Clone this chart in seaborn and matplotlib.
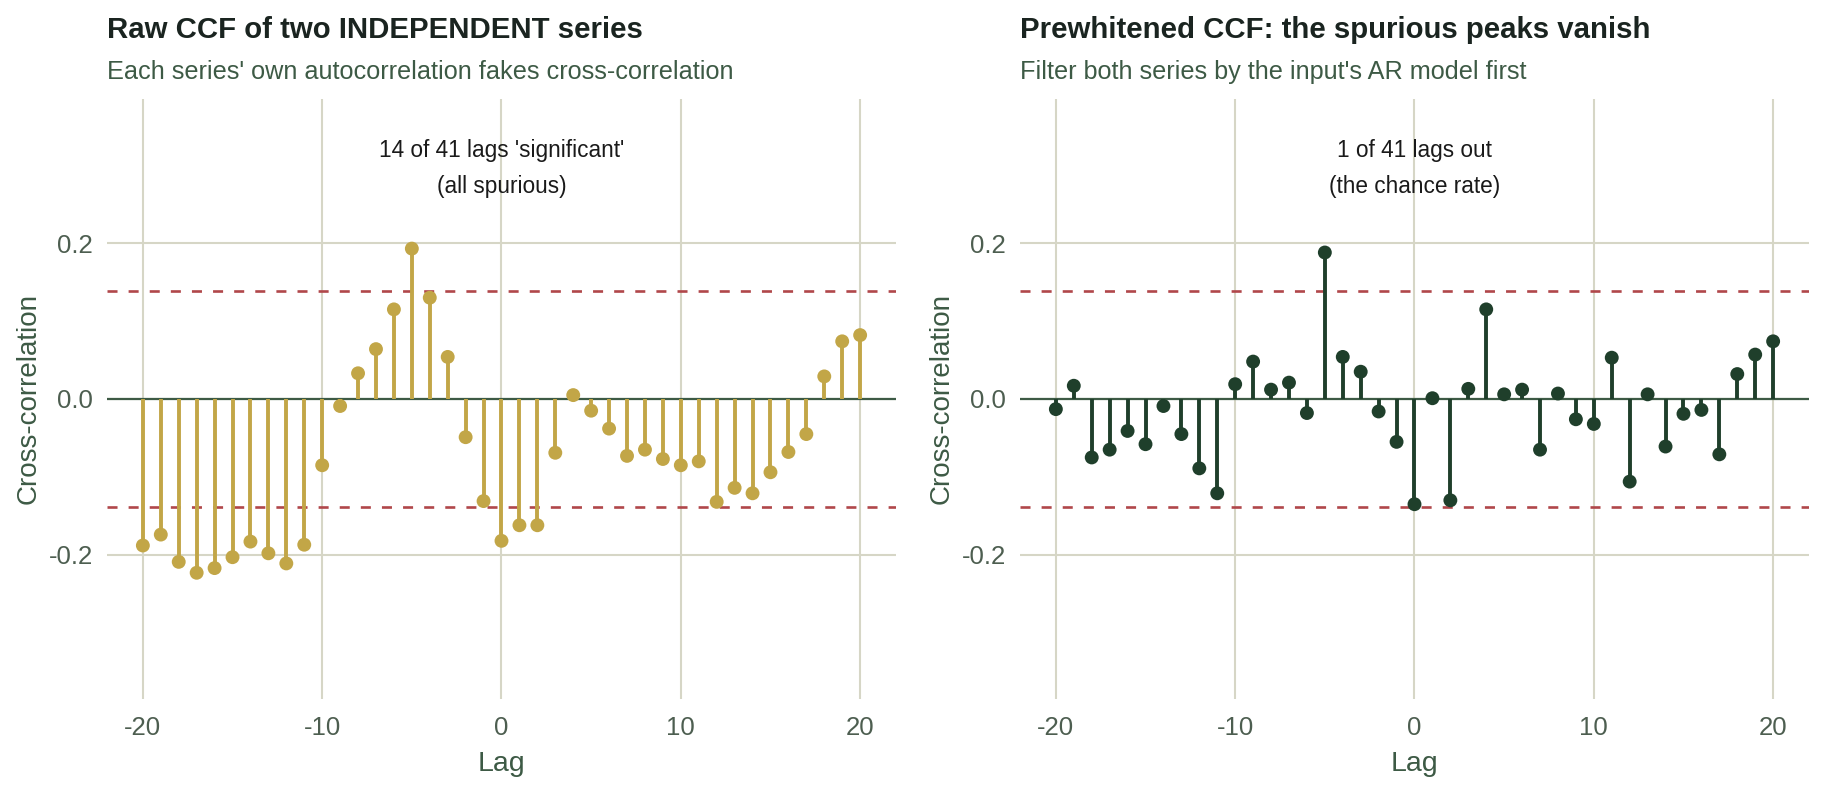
import numpy as np
import pandas as pd
import matplotlib
matplotlib.use("Agg")
import matplotlib.pyplot as plt
import seaborn as sns

lags = list(range(-20, 21))
raw_ccf = [-0.188, -0.174, -0.209, -0.223, -0.217, -0.203, -0.183, -0.198, -0.211, -0.187,
           -0.085, -0.009, 0.033, 0.064, 0.115, 0.193, 0.130, 0.054, -0.049, -0.131,
           -0.182, -0.162, -0.162, -0.069, 0.005, -0.015, -0.038, -0.073, -0.065, -0.077,
           -0.085, -0.080, -0.132, -0.114, -0.121, -0.094, -0.068, -0.045, 0.029, 0.074, 0.082]
pw_ccf = [-0.013, 0.017, -0.075, -0.065, -0.041, -0.058, -0.009, -0.045, -0.089, -0.121,
          0.019, 0.048, 0.012, 0.021, -0.018, 0.188, 0.054, 0.035, -0.016, -0.055,
          -0.135, 0.001, -0.130, 0.013, 0.115, 0.006, 0.012, -0.065, 0.007, -0.026,
          -0.032, 0.053, -0.106, 0.006, -0.061, -0.019, -0.014, -0.071, 0.032, 0.057, 0.074]
conf_bound = 0.1386

titles = ["Raw CCF of two INDEPENDENT series", "Prewhitened CCF: the spurious peaks vanish"]
subtitles = ["Each series' own autocorrelation fakes cross-correlation",
             "Filter both series by the input's AR model first"]
notes = ["14 of 41 lags 'significant'\n(all spurious)", "1 of 41 lags out\n(the chance rate)"]
colors = ["#C2A647", "#1F3F2B"]
xticks = [-20, -10, 0, 10, 20]
yticks = [-0.2, 0.0, 0.2]
ytick_labels = ["-0.2", "0.0", "0.2"]
xtick_labels = ["-20", "-10", "0", "10", "20"]

sns.set_theme(style="white")
plt.rcParams['font.family'] = ['Liberation Sans', 'DejaVu Sans']

fig = plt.figure(figsize=(18.24, 7.87), dpi=100)
grid_c = "#D6D6C6"
text_c = "#3D5A45"
tick_c = "#4D5E50"

lefts = [107 / 1824, 1020 / 1824]
for i, vals in enumerate([raw_ccf, pw_ccf]):
    ax = fig.add_axes([lefts[i], 88 / 787, 789 / 1824, 600 / 787])
    df = pd.DataFrame({"lag": lags, "ccf": vals})
    ax.set_xlim(-22, 22)
    ax.set_ylim(-0.385, 0.385)
    for s in ax.spines.values():
        s.set_visible(False)
    ax.set_xticks(xticks)
    ax.set_xticklabels(xtick_labels)
    ax.set_yticks(yticks)
    ax.set_yticklabels(ytick_labels)
    ax.grid(True, color=grid_c, lw=1.5, zorder=0)
    ax.set_axisbelow(True)
    ax.tick_params(axis="both", length=0, labelsize=18.5, colors=tick_c, pad=10)
    ax.tick_params(axis="x", pad=12)
    ax.axhline(0, color="#3D5A45", lw=1.6, zorder=2)
    for b in (conf_bound, -conf_bound):
        ax.axhline(b, color="#B0474A", lw=1.9, ls=(0, (3.8, 4.2)), zorder=2)
    ax.vlines(df["lag"], 0, df["ccf"], color=colors[i], lw=2.8, zorder=3)
    sns.scatterplot(data=df, x="lag", y="ccf", ax=ax, color=colors[i], s=100,
                    edgecolor="none", zorder=4, legend=False)
    ax.set_xlabel("Lag", fontsize=20.5, color=text_c, labelpad=8)
    ax.set_ylabel("Cross-correlation", fontsize=20, color=text_c, labelpad=5)
    ax.text(0, 0.296, notes[i], ha="center", va="center", fontsize=16.3,
            color="#1A1A1A", linespacing=1.75)
    ax.text(0.0, 1.115, titles[i], transform=ax.transAxes,
            fontsize=21.2, fontweight="bold", color="#1A2420", ha="left", va="center")
    ax.text(0.0, 1.045, subtitles[i], transform=ax.transAxes,
            fontsize=18.2, color=text_c, ha="left", va="center")

fig.savefig("out.png", dpi=100, facecolor="white")
